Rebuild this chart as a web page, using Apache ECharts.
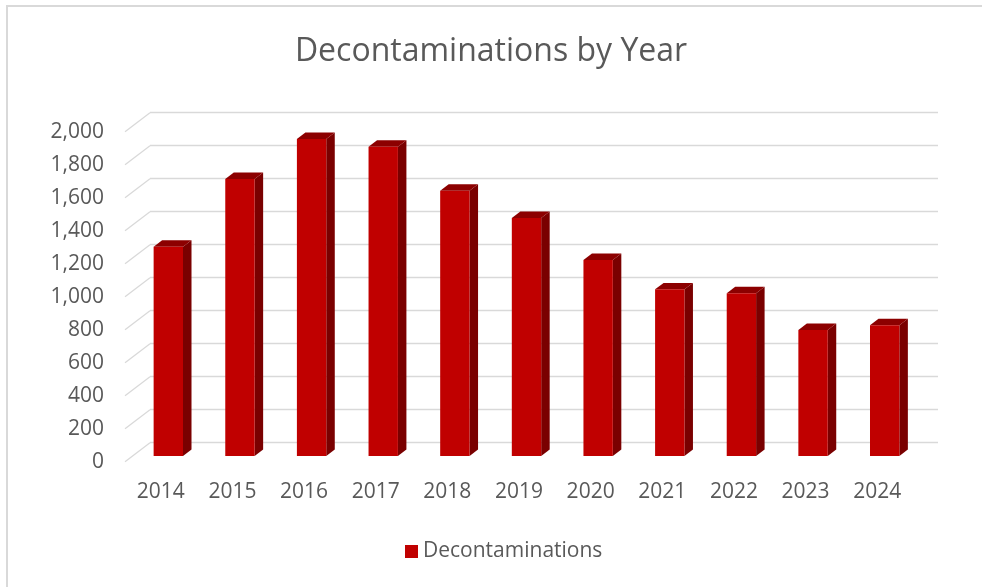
<!DOCTYPE html>
<html>
<head>
<meta charset="utf-8">
<script src="https://cdn.jsdelivr.net/npm/echarts@6/dist/echarts.min.js"></script>
<style>html,body{margin:0;padding:0;background:#fff}#c{width:982px;height:587px}</style>
</head>
<body>
<div id="c"></div>
<script>
const years = ['2014','2015','2016','2017','2018','2019','2020','2021','2022','2023','2024'];
const decontaminations = [1268, 1679, 1921, 1875, 1608, 1442, 1188, 1010, 986, 764, 792];
const yTicks = [0, 200, 400, 600, 800, 1000, 1200, 1400, 1600, 1800, 2000];

const FONT = 'Open Sans';
const TXT = '#595959';
const DX = -25, DY = 19;          // full front-to-back offset of the 3D floor
const F_FRONT = 0.7, F_BACK = 0.36; // bar depth fractions (from back wall)
const BAR_W = 0.41;                 // fraction of band

const chart = echarts.init(document.getElementById('c'), null, {renderer: 'canvas'});

function barItem(params, api) {
  const idx = api.value(0), v = api.value(1);
  const base = api.coord([idx, 0]);
  const top = api.coord([idx, v]);
  const band = api.size([1, 0])[0];
  const w = band * BAR_W;
  const fx = base[0] + DX * F_FRONT, fy = DY * F_FRONT;
  const bx = base[0] + DX * F_BACK, by = DY * F_BACK;
  const L = fx - w / 2, R = fx + w / 2;
  const bL = bx - w / 2, bR = bx + w / 2;
  const yb = base[1], yt = top[1];
  return {
    type: 'group',
    children: [
      {type: 'polygon', shape: {points: [[R, yt + fy], [R, yb + fy], [bR, yb + by], [bR, yt + by]]},
       style: {fill: '#7a0000'}},
      {type: 'polygon', shape: {points: [[L, yt + fy], [R, yt + fy], [bR, yt + by], [bL, yt + by]]},
       style: {fill: '#8c0000'}},
      {type: 'rect', shape: {x: L, y: yt + fy, width: w, height: yb - yt},
       style: {fill: '#c00000'}}
    ]
  };
}

function diagItem(params, api) {
  const v = api.value(1);
  const y = api.coord([0, v])[1];
  const x0 = params.coordSys.x;
  return {type: 'line', shape: {x1: x0, y1: y, x2: x0 + DX, y2: y + DY},
          style: {stroke: '#d9d9d9', lineWidth: 1.3}};
}

chart.setOption({
  animation: false,
  backgroundColor: '#fff',
  title: {
    text: 'Decontaminations by Year', left: 'center', top: 31,
    textStyle: {fontFamily: FONT, fontSize: 32, fontWeight: 'normal', color: TXT}
  },
  legend: {
    data: ['Decontaminations'], left: 400, top: 536, icon: 'rect',
    itemWidth: 13, itemHeight: 13, itemGap: 6,
    textStyle: {fontFamily: FONT, fontSize: 21, color: TXT}
  },
  graphic: [{
    type: 'rect', shape: {x: 7, y: 6, width: 1100, height: 1100},
    style: {fill: 'none', stroke: '#d9d9d9', lineWidth: 2}, silent: true
  }],
  grid: [
    {left: 150, right: 44, top: 112.7, bottom: 587 - 442.7},
    {left: 125, right: 69, top: 131.7, bottom: 587 - 461.7}
  ],
  xAxis: [
    {type: 'category', data: years, gridIndex: 0, axisLine: {show: false}, axisTick: {show: false},
     axisLabel: {show: false}},
    {type: 'category', data: years, gridIndex: 1, axisLine: {show: false}, axisTick: {show: false},
     axisLabel: {fontFamily: FONT, fontSize: 21, color: TXT, margin: 20}}
  ],
  yAxis: [
    {type: 'value', gridIndex: 0, min: 0, max: 2000, interval: 200, axisLabel: {show: false},
     axisLine: {show: false}, axisTick: {show: false},
     splitLine: {lineStyle: {color: '#d9d9d9', width: 1.3}}},
    {type: 'value', gridIndex: 1, min: 0, max: 2000, interval: 200,
     axisLine: {show: false}, axisTick: {show: false}, splitLine: {show: false},
     axisLabel: {fontFamily: FONT, fontSize: 21, color: TXT, margin: 21,
                 formatter: v => v.toLocaleString('en-US')}}
  ],
  series: [
    {type: 'custom', name: 'diag', xAxisIndex: 0, yAxisIndex: 0, renderItem: diagItem,
     data: yTicks.map(v => [0, v]), z: 1, silent: true},
    {type: 'custom', name: 'Decontaminations', xAxisIndex: 0, yAxisIndex: 0, renderItem: barItem,
     itemStyle: {color: '#c00000'}, data: decontaminations.map((v, i) => [i, v]), z: 5}
  ]
});
</script>
</body>
</html>
